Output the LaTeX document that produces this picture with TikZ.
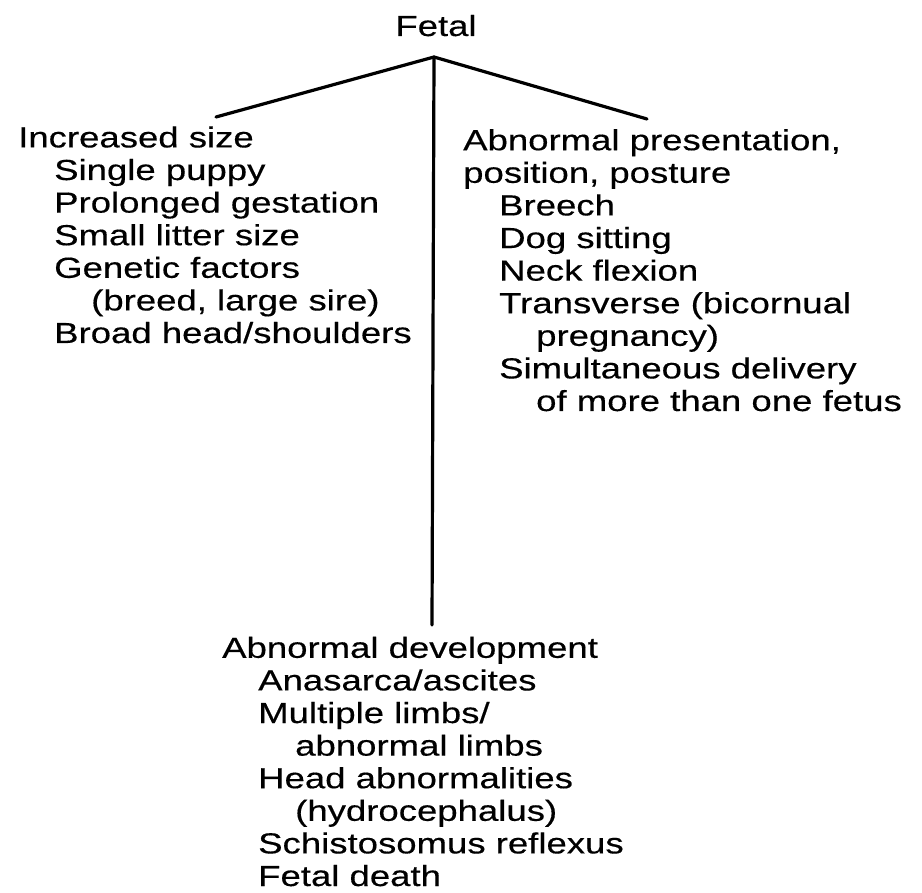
\documentclass[tikz,border=0pt]{standalone}
\usepackage{fontspec}
\usepackage{tikz}
\usetikzlibrary{positioning}
\newfontfamily\scanfont[FakeStretch=1.26, FakeBold=0.4]{Liberation Sans}
\newcommand{\causefont}{\scanfont\fontsize{29}{32.6}\selectfont}
\newcommand{\lvlone}{\hspace*{36pt}}
\newcommand{\lvltwo}{\hspace*{73pt}}

\tikzset{
  cause/.style={align=left, anchor=base west, inner sep=0pt, font=\causefont},
  branch/.style={line width=3.2pt, line cap=round}
}

\begin{document}
\begin{tikzpicture}[x=1pt, y=-1pt]
  \useasboundingbox (0,0) rectangle (922,893);

  % root
  \node[cause, anchor=base] (fetal) at (436,36) {Fetal};
  \coordinate (apex) at (434,57);

  % the three groups of causes (placed at the baseline of their last line)
  \node[cause] (size) at (18,343) {Increased size\\
    \lvlone Single puppy\\
    \lvlone Prolonged gestation\\
    \lvlone Small litter size\\
    \lvlone Genetic factors\\
    \lvltwo (breed, large sire)\\
    \lvlone Broad head/shoulders};

  \node[cause] (presentation) at (463,411) {Abnormal presentation,\\
    position, posture\\
    \lvlone Breech\\
    \lvlone Dog sitting\\
    \lvlone Neck flexion\\
    \lvlone Transverse (bicornual\\
    \lvltwo pregnancy)\\
    \lvlone Simultaneous delivery\\
    \lvltwo of more than one fetus};

  \node[cause] (development) at (222,886) {Abnormal development\\
    \lvlone Anasarca/ascites\\
    \lvlone Multiple limbs/\\
    \lvltwo abnormal limbs\\
    \lvlone Head abnormalities\\
    \lvltwo (hydrocephalus)\\
    \lvlone Schistosomus reflexus\\
    \lvlone Fetal death};

  % branch ends
  \coordinate (size-end) at (216,117);
  \coordinate (presentation-end) at (647,119);
  \coordinate (development-end) at (432,625);

  \draw[branch] (size-end) -- (apex) -- (presentation-end);
  \draw[branch] (apex) -- (development-end);
\end{tikzpicture}
\end{document}
